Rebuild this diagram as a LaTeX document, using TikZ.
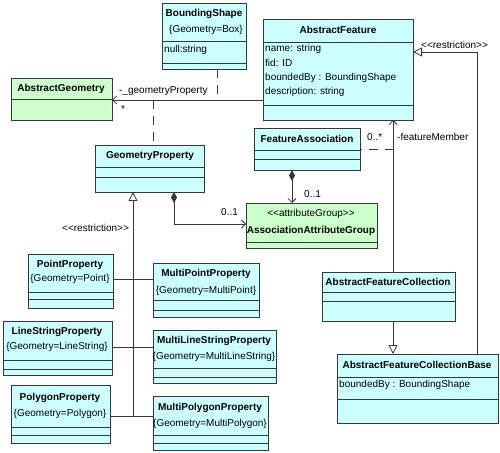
\documentclass[tikz,border=0pt]{standalone}
\usepackage{fontspec}
\setmainfont{Liberation Sans}
\usetikzlibrary{arrows.meta}
\definecolor{cy}{RGB}{204,255,255}
\definecolor{gr}{RGB}{204,255,204}
\definecolor{ln}{RGB}{55,55,55}
\newcommand\umlcls[8]{%
  \node[#6, minimum width=#4bp, minimum height=#5bp] (#1) at (#2,#3) {};
  \foreach \s in {#7,#8} {\draw[sep] (#2,\s) -- ++(#4,0);}
}
\begin{document}
\begin{tikzpicture}[x=1bp,y=-1bp,
  cls/.style={draw=ln, line width=0.8bp, anchor=north west, inner sep=0, outer sep=0, fill=cy},
  gcls/.style={cls, fill=gr},
  ttl/.style={font=\fontsize{10bp}{12bp}\selectfont\bfseries, inner sep=0},
  txt/.style={font=\fontsize{10bp}{12bp}\selectfont, inner sep=0},
  attr/.style={txt, anchor=west},
  sep/.style={draw=ln, line width=0.8bp},
  conn/.style={draw=ln, line width=0.8bp},
  dsh/.style={conn, dash pattern=on 9bp off 7bp},
  gen/.style={conn, -{Triangle[open, length=9bp, width=9bp]}},
  nav/.style={conn, -{Straight Barb[length=4bp, width=8bp]}},
  comp/.style={conn, {Diamond[length=11bp, width=6bp]}-{Straight Barb[length=4bp, width=8bp]}},
]
\useasboundingbox (0,0) rectangle (500,453);
\fill[white] (0,0) rectangle (500,453);

% classes
\umlcls{bs}{162}{3}{84}{66}{cls}{41}{63}
\node[ttl] (bsT) at (204,14) {BoundingShape};
\node[txt] (bsG) at (206,30) {\{Geometry=Box\}};
\node[attr] (bsA) at (164,50) {null:string};

\umlcls{ag}{11}{78}{101}{42}{gcls}{99}{99}
\node[ttl] (agT) at (61,89) {AbstractGeometry};

\umlcls{af}{263}{19}{150}{101}{cls}{42}{105}
\node[ttl] (afT) at (338,30) {AbstractFeature};
\node[attr] (afA1) at (265,49) {name: string};
\node[attr] (afA2) at (265,63) {fid: ID};
\node[attr] (afA3) at (265,78) {boundedBy : BoundingShape};
\node[attr] (afA4) at (265,92) {description: string};

\umlcls{fa}{254}{128}{106}{42}{cls}{150}{159}
\node[ttl] (faT) at (307,139) {FeatureAssociation};

\umlcls{aag}{246}{203}{131}{45}{gcls}{242}{242}
\node[txt] (aagS) at (311,214) {<{}<attributeGroup>{}>};
\node[ttl] (aagT) at (311,231) {AssociationAttributeGroup};

\umlcls{gp}{95}{145}{109}{47}{cls}{167}{177}
\node[ttl] (gpT) at (150,156) {GeometryProperty};

\umlcls{pp}{28}{254}{85}{54}{cls}{292}{299}
\node[ttl] (ppT) at (70,265) {PointProperty};
\node[txt] (ppG) at (70,279) {\{Geometry=Point\}};

\umlcls{mpp}{153}{263}{106}{54}{cls}{300}{310}
\node[ttl] (mppT) at (206,274) {MultiPointProperty};
\node[txt] (mppG) at (206,291) {\{Geometry=MultiPoint\}};

\umlcls{lsp}{3}{321}{109}{54}{cls}{360}{369}
\node[ttl] (lspT) at (57,332) {LineStringProperty};
\node[txt] (lspG) at (57,347) {\{Geometry=LineString\}};

\umlcls{mlsp}{153}{330}{123}{53}{cls}{368}{377}
\node[ttl] (mlspT) at (214,341) {MultiLineStringProperty};
\node[txt] (mlspG) at (214,357) {\{Geometry=MultiLineString\}};

\umlcls{plp}{11}{385}{99}{58}{cls}{427}{435}
\node[ttl] (plpT) at (60,398) {PolygonProperty};
\node[txt] (plpG) at (60,414) {\{Geometry=Polygon\}};

\umlcls{mplp}{153}{396}{115}{54}{cls}{435}{443}
\node[ttl] (mplpT) at (210,408) {MultiPolygonProperty};
\node[txt] (mplpG) at (210,424) {\{Geometry=MultiPolygon\}};

\umlcls{afc}{322}{272}{133}{49}{cls}{292}{301}
\node[ttl] (afcT) at (388,282) {AbstractFeatureCollection};

\umlcls{afcb}{337}{354}{161}{69}{cls}{377}{399}
\node[ttl] (afcbT) at (417,365) {AbstractFeatureCollectionBase};
\node[attr] (afcbA) at (339,385) {boundedBy : BoundingShape};

% helper coordinates
\coordinate (cA) at (217,100);
\coordinate (cB) at (153,100);
\coordinate (cR) at (477,52);
\coordinate (cF) at (393,0);
\coordinate (cD) at (393,149);
\coordinate (cC) at (292,0);
\coordinate (cG) at (174,224);
\coordinate (t1) at (133,279);
\coordinate (t2) at (133,347);
\coordinate (t3) at (133,416);

% connectors
\draw[nav] (af.west |- cA) -- (ag.east |- cA);
\draw[dsh] (bs.south -| cA) -- (cA);
\draw[dsh] (cB) -- (gp.north -| cB);
\draw[gen] (afcb.north -| cR) -- (cR) -- (af.east |- cR);
\draw[nav] (afc.north -| cF) -- (af.south -| cF);
\draw[dsh, dash phase=7bp] (fa.east |- cD) -- (cD);
\draw[comp] (fa.south -| cC) -- (aag.north -| cC);
\draw[comp] (gp.south -| cG) -- (cG) -- (aag.west |- cG);
\draw[gen] (t3) -- (gp.south -| t3);
\draw[conn] (pp.east |- t1) -- (mpp.west |- t1);
\draw[conn] (lsp.east |- t2) -- (mlsp.west |- t2);
\draw[conn] (plp.east |- t3) -- (mplp.west |- t3);
\draw[gen] (afc.south -| cF) -- (afcb.north -| cF);

% labels
\node[attr] (lGP) at (119,91) {-\_geometryProperty};
\node[attr] (lStar) at (121,109) {*};
\node[attr] (lR1) at (421,45) {<{}<restriction>{}>};
\node[attr] (lR2) at (62,228) {<{}<restriction>{}>};
\node[attr] (lM) at (367,137) {0..*};
\node[attr] (lFM) at (397,137) {-featureMember};
\node[attr] (l01a) at (304,194) {0..1};
\node[attr] (l01b) at (221,212) {0..1};
\end{tikzpicture}
\end{document}
